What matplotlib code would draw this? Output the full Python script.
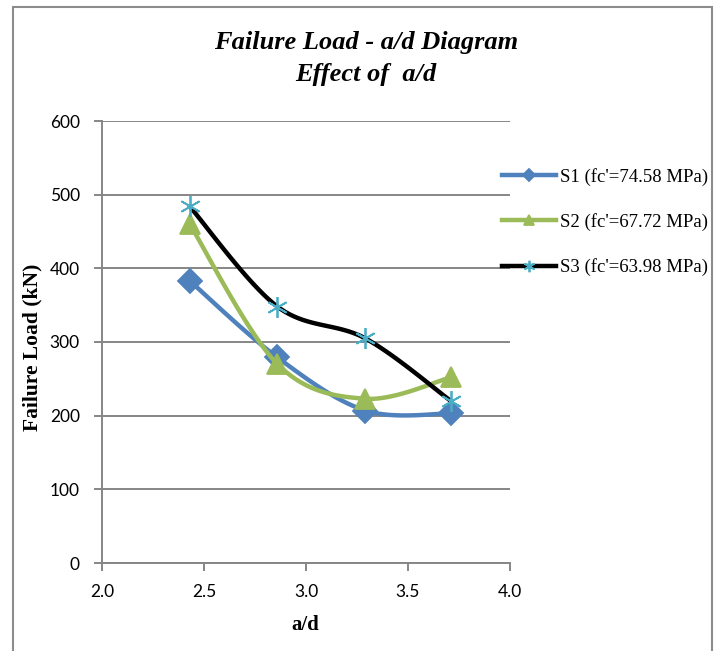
import numpy as np
import matplotlib
matplotlib.use("Agg")
import matplotlib.pyplot as plt
from matplotlib.patches import Rectangle
from matplotlib.lines import Line2D

# ---- data ----
ad = [2.43, 2.86, 3.29, 3.71]
s1 = [383, 279, 207, 203]
s2 = [460, 270, 223, 252]
s3 = [484, 348, 305, 220]
labels = ["S1 (fc'=74.58 MPa)", "S2 (fc'=67.72 MPa)", "S3 (fc'=63.98 MPa)"]
xticks = [2.0, 2.5, 3.0, 3.5, 4.0]
yticks = [0, 100, 200, 300, 400, 500, 600]


def smooth(x, y, n=40):
    """Excel-like smoothed line (Catmull-Rom Bezier) through the points."""
    x = np.asarray(x, float); y = np.asarray(y, float)
    P = np.column_stack([x, y])
    out = []
    for i in range(len(P) - 1):
        p0 = P[i - 1] if i > 0 else P[i]
        p1 = P[i]; p2 = P[i + 1]
        p3 = P[i + 2] if i + 2 < len(P) else P[i + 1]
        c1 = p1 + (p2 - p0) / 6.0
        c2 = p2 - (p3 - p1) / 6.0
        t = np.linspace(0, 1, n)[:, None]
        seg = ((1 - t) ** 3) * p1 + 3 * ((1 - t) ** 2) * t * c1 + 3 * (1 - t) * t ** 2 * c2 + t ** 3 * p2
        out.append(seg if i == 0 else seg[1:])
    out = np.vstack(out)
    return out[:, 0], out[:, 1]


W, H = 718, 651
fig = plt.figure(figsize=(W / 100, H / 100), dpi=100)
ax = fig.add_axes([102 / W, 1 - 563 / H, (510 - 102) / W, (563 - 121) / H])

grid_c = "#868686"
blue = "#4F81BD"
green = "#9BBB59"
cyan = "#4BACC6"

series = [
    (s1, blue, "D", blue, 12, 1),
    (s2, green, "^", green, 14, 2),
    (s3, "black", (6, 2, 0), cyan, 15, 3),
]
handles = []
for (vals, lc, mk, mc, ms, z), lab in zip(series, labels):
    xs, ys = smooth(ad, vals)
    ax.plot(xs, ys, color=lc, lw=3.2, zorder=z, solid_capstyle="round")
    ax.plot(ad, vals, ls="none", marker=mk, ms=ms, color=mc, mec=mc, mew=1.3, zorder=z + 0.5)
    handles.append(Line2D([], [], color=lc, lw=3.2, marker=mk, ms=ms * 0.55,
                          mfc=mc, mec=mc, mew=1.3))

ax.set_xlim(2.0, 4.0)
ax.set_ylim(0, 600)
ax.set_xticks(xticks)
ax.set_yticks(yticks)
ax.set_xticklabels([f"{v:.1f}" for v in xticks])
ax.set_yticklabels([str(v) for v in yticks])
ax.grid(axis="y", color=grid_c, lw=1.4)
ax.set_axisbelow(True)
for s in ["top", "right"]:
    ax.spines[s].set_visible(False)
for s in ["left", "bottom"]:
    ax.spines[s].set_color(grid_c)
    ax.spines[s].set_linewidth(1.4)
ax.tick_params(axis="both", direction="out", length=6, width=1.4, color=grid_c,
               labelsize=12.5)
for t in ax.get_xticklabels() + ax.get_yticklabels():
    t.set_fontfamily("Lato")
ax.tick_params(axis="y", pad=10)
ax.tick_params(axis="x", pad=9)

ax.set_xlabel("a/d", fontfamily="Liberation Serif", fontweight="bold", fontsize=15)
ax.set_ylabel("Failure Load (kN)", fontfamily="Liberation Serif", fontweight="bold", fontsize=15.5)
ax.xaxis.set_label_coords((305 - 102) / 408, (563 - 625) / 442)
ax.xaxis.label.set_va("center")
ax.yaxis.set_label_coords((32 - 102) / 408, (563 - 347) / 442)
ax.yaxis.label.set_va("center")

fig.text(366 / W, 1 - 43 / H, "Failure Load - a/d Diagram", ha="center", va="center",
         fontfamily="Liberation Serif", fontweight="bold", fontstyle="italic", fontsize=19)
fig.text(366 / W, 1 - 75 / H, "Effect of  a/d", ha="center", va="center",
         fontfamily="Liberation Serif", fontweight="bold", fontstyle="italic", fontsize=19)

leg = fig.legend(handles, labels, loc="upper left", bbox_to_anchor=(502 / W, 1 - 168 / H),
                 frameon=False, prop={"family": "Liberation Serif", "size": 13.5},
                 handlelength=2.9, handletextpad=0.2, labelspacing=1.45,
                 borderaxespad=0, borderpad=0)

fig.add_artist(Rectangle((13 / W, -0.05), (712 - 13) / W, (1 - 7 / H) + 0.05,
                         transform=fig.transFigure, fill=False, ec="#8c8c8c", lw=1.5, clip_on=False))

fig.savefig("out.png", dpi=100)
